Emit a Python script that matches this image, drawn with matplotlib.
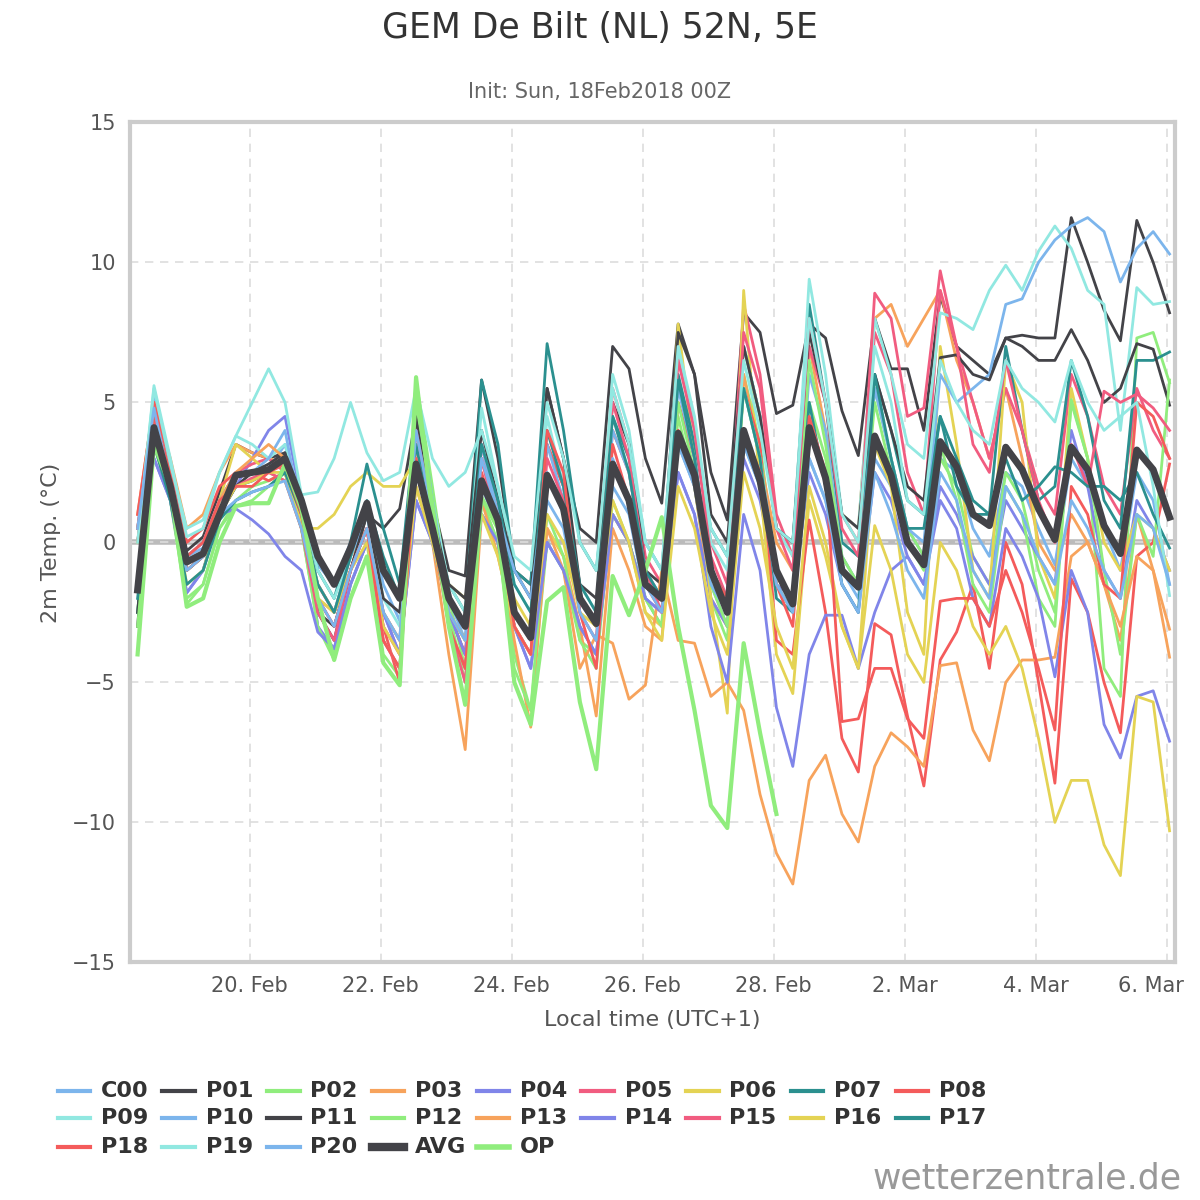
import numpy as np
import matplotlib
matplotlib.use("Agg")
import matplotlib.pyplot as plt
from matplotlib.lines import Line2D
from matplotlib.transforms import ScaledTranslation

N = 64
t0 = 0.29  # days since 18 Feb 00 local
step = 0.25

C00=[0.5,5.2,2.5,-0.5,-0.2,1.5,2.0,2.2,2.6,3.5,1.2,-0.8,-1.5,0,1.2,-1.5,-2.8,3.0,0.5,-2.5,-3.5,2.0,0.5,-3.0,-4.0,1.5,0.5,-2.5,-3.5,2.0,1.0,-2.0,-3.0,3.5,2.0,-1.5,-3.0,3.5,2.0,-1.5,-2.5,3.0,1.5,-1.0,-2.0,3.0,2.0,0.5,-0.5,3.0,2.5,0.5,-0.5,2.5,2.0,0.5,-0.8,3.0,2.0,0.5,-1.0,2.5,1.5,-1.5]
P01=[-3.0,4.2,2.5,-0.3,0.2,1.8,3.5,3.2,3.0,3.2,1.0,-2.5,-3.5,-1.0,1.0,0.5,1.2,4.5,1.5,-1.0,-1.2,5.8,3.0,-1.0,-1.5,5.5,3.0,0.5,0.0,7.0,6.2,3.0,1.4,7.8,6.0,2.5,0.8,8.2,7.5,4.6,4.9,7.8,7.3,4.7,3.1,8.0,6.2,6.2,4.0,8.8,7.0,6.5,6.0,7.3,7.4,7.3,7.3,11.6,10.0,8.3,7.2,11.5,10.0,8.2]
P02=[-2.5,3.8,1.5,-2.2,-1.5,0.5,1.5,2.0,2.2,2.5,0.5,-3.0,-4.0,-1.5,0.0,-4.0,-4.8,5.8,2.0,-2.0,-4.5,1.5,0.0,-4.0,-6.0,0.0,-1.0,-3.5,-4.0,1.0,0.0,-2.0,-3.0,4.5,2.0,-2.0,-3.5,6.0,3.5,-1.0,-2.0,5.0,3.0,-0.5,-1.5,5.5,3.0,0.5,-0.5,3.0,2.0,-0.5,-1.5,2.5,1.5,-1.0,-2.5,5.0,3.0,-4.5,-5.5,7.3,7.5,5.7]
P03=[1.0,5.0,3.0,0.5,1.0,2.5,3.5,3.2,3.0,2.8,1.0,-2.0,-2.5,-0.5,0.5,-2.5,-3.5,2.0,0.0,-4.0,-7.4,1.0,0.0,-3.5,-6.6,0.5,-0.5,-3.0,-6.2,0.5,-1.0,-3.0,-3.5,4.0,2.0,-2.0,-3.0,6.0,3.0,0.0,-1.0,7.0,4.0,1.0,0.5,8.0,8.5,7.0,8.0,9.0,6.5,5.0,3.0,5.5,3.0,0.0,-1.0,1.0,0.0,-1.5,-3.5,1.0,-1.0,-4.1]
P04=[0.0,3.0,1.5,-1.8,-1.0,1.0,2.0,3.0,4.0,4.5,1.5,-3.0,-3.8,-1.5,0.0,-2.5,-4.0,1.5,0.0,-2.5,-4.0,1.0,0.0,-3.0,-4.5,0.0,-1.0,-3.0,-4.0,1.0,0.0,-2.0,-2.5,2.5,1.0,-2.0,-3.0,3.0,1.5,-1.5,-2.0,2.5,1.0,-1.5,-2.5,2.5,1.5,-0.5,-1.5,2.0,1.0,-0.5,-1.5,1.5,0.5,-0.5,-1.5,4.0,2.0,-1.0,-2.0,1.5,0.5,-1.0]
P05=[0.5,4.8,2.5,-0.5,0.0,1.5,2.5,2.8,3.0,2.5,0.5,-2.0,-3.0,-1.0,0.5,-3.0,-4.0,3.5,1.0,-3.0,-4.5,3.5,1.0,-2.5,-3.5,3.5,2.0,-2.0,-3.0,5.5,3.5,-0.5,-1.5,7.0,4.0,0.0,-1.5,8.5,6.0,1.0,-0.5,7.0,5.0,1.0,0.0,7.5,6.0,2.5,1.0,9.0,7.0,5.0,3.0,5.5,4.0,2.0,1.0,6.0,4.5,2.0,1.0,5.5,4.0,3.0]
P06=[0.5,4.0,2.5,-1.0,-0.5,1.5,3.5,3.0,2.5,2.2,0.5,0.5,1.0,2.0,2.5,2.0,2.0,3.0,0.0,-1.5,-2.0,1.0,0.0,-2.0,-3.0,0.5,-0.5,-2.0,-3.0,1.0,0.0,-2.5,-3.0,7.8,3.0,-2.0,-6.1,9.0,2.0,-4.0,-5.4,1.5,-0.5,-3.0,-4.5,3.5,2.0,-2.5,-4.0,7.0,3.5,-1.0,-2.0,6.5,5.0,-0.5,-2.0,5.5,3.0,0.0,-1.0,1.0,0.5,-1.0]
P07=[-2.5,4.0,2.0,-1.0,-0.5,1.0,2.0,2.2,2.5,3.0,1.5,-1.0,-2.0,0.0,2.8,0.5,-1.5,4.5,1.0,-1.5,-2.5,5.8,3.5,-1.0,-1.5,7.1,4.0,0.0,-1.0,4.5,3.0,0.0,-1.0,6.0,3.5,0.5,-0.5,7.0,4.5,0.5,0.0,8.5,5.0,0.0,-0.5,6.0,4.0,1.5,1.0,4.5,2.0,1.0,1.0,7.0,4.0,1.5,2.0,6.5,4.5,1.5,0.5,6.5,6.5,6.8]
P08=[1.0,5.0,2.8,0.0,0.5,2.0,2.5,2.5,2.2,2.5,0.8,-1.5,-2.5,-1.0,0.5,-3.0,-5.0,4.5,1.0,-2.5,-4.0,3.0,1.0,-2.5,-3.5,3.5,2.0,-2.0,-3.0,4.0,2.5,-1.0,-2.0,5.0,3.0,-1.0,-2.0,5.5,3.5,-3.5,-4.0,0.8,-2.5,-7.0,-8.2,-2.9,-3.3,-6.2,-8.7,-4.2,-3.2,-1.5,-4.5,0.0,-1.5,-5.0,-8.6,-1.3,-2.5,-5.0,-6.8,-0.5,0.0,2.8]
P09=[0.0,5.6,3.0,0.2,0.5,2.5,3.8,3.5,3.0,3.5,1.5,-1.0,-2.0,-0.5,1.0,-2.0,-3.0,5.0,1.5,-1.5,-2.5,4.8,2.0,-1.5,-2.5,4.5,2.0,-1.5,-2.5,6.0,4.0,0.0,-1.0,7.0,4.0,0.0,-1.0,7.0,4.5,0.5,-0.5,9.4,6.0,1.0,0.5,8.0,6.0,3.5,3.0,8.2,8.0,7.6,9.0,9.9,9.0,10.4,11.3,10.5,9.0,8.5,4.0,9.1,8.5,8.6]
P10=[0.0,4.5,2.5,-0.5,0.0,1.5,2.5,2.5,3.0,4.0,1.0,-1.5,-2.5,-0.5,1.0,-2.5,-3.5,5.5,1.5,-2.0,-3.5,3.5,1.0,-2.5,-3.5,3.5,1.5,-2.0,-3.0,4.0,2.5,-1.0,-2.0,5.5,3.0,-1.0,-2.0,5.5,3.0,-1.0,-2.0,6.0,4.0,-0.5,-1.5,5.5,3.0,0.5,0.0,6.0,5.0,5.5,6.0,8.5,8.7,10.0,10.8,11.3,11.6,11.1,9.3,10.5,11.1,10.3]
P11=[-2.5,4.0,2.0,-1.0,-0.5,1.0,2.0,2.5,2.8,3.2,1.2,-2.5,-3.0,-1.0,1.0,-2.0,-2.5,4.5,1.0,-1.5,-2.0,4.0,1.5,-1.0,-2.0,5.5,3.0,-1.5,-2.0,5.0,3.5,-1.0,-1.5,7.5,6.0,1.0,0.0,7.0,4.5,0.5,0.0,7.5,5.0,1.0,0.5,6.0,4.0,2.0,1.5,6.6,6.7,6.0,5.8,7.3,7.0,6.5,6.5,7.6,6.5,5.0,5.5,7.1,6.9,4.9]
P12=[-3.0,3.5,1.5,-2.0,-1.5,0.5,1.3,1.5,2.0,2.5,0.5,-3.0,-4.2,-2.0,-0.5,-3.5,-4.5,5.0,1.5,-2.5,-5.0,1.5,0.0,-4.5,-6.0,1.0,-0.5,-3.5,-4.5,1.5,0.0,-2.0,-3.0,5.0,2.5,-1.5,-3.0,5.5,3.0,-1.5,-2.5,6.5,3.5,-0.5,-1.5,5.0,2.5,0.0,-1.0,3.5,1.5,-1.5,-2.5,2.0,1.0,-2.0,-3.0,5.1,3.0,-1.0,-4.0,1.0,-0.5,5.8]
P13=[0.0,4.5,2.0,-1.0,-0.5,1.5,2.5,3.0,3.5,3.0,0.8,-1.5,-2.5,-1.0,0.5,-2.5,-3.5,3.5,0.5,-2.5,-3.5,1.5,-0.5,-3.0,-4.0,0.5,-1.0,-4.5,-3.3,-3.6,-5.6,-5.1,-1.0,-3.5,-3.6,-5.5,-5.0,-6.0,-9.0,-11.1,-12.2,-8.5,-7.6,-9.7,-10.7,-8.0,-6.8,-7.3,-8.0,-4.4,-4.3,-6.7,-7.8,-5.0,-4.2,-4.2,-4.1,-0.5,0.0,-1.5,-3.0,-0.5,-1.0,-3.1]
P14=[0.0,3.0,1.5,-1.8,-1.0,1.0,1.2,0.8,0.3,-0.5,-1.0,-3.2,-3.8,-1.5,0.0,-2.5,-4.0,1.5,0.0,-2.5,-4.0,1.0,0.0,-3.0,-4.5,0.0,-1.0,-3.0,-4.0,1.0,0.0,-2.0,-2.5,2.5,1.0,-3.0,-5.0,1.0,-1.0,-5.9,-8.0,-4.0,-2.6,-2.6,-4.5,-2.5,-1.0,-0.5,-1.5,1.5,0.5,-2.0,-3.0,0.5,-0.5,-2.0,-4.8,-1.0,-2.5,-6.5,-7.7,-5.5,-5.3,-7.1]
P15=[0.0,4.5,2.2,-1.0,-0.5,1.2,2.0,2.3,2.5,2.2,0.5,-2.5,-3.5,-1.0,0.5,-3.5,-4.5,4.0,1.0,-3.0,-5.0,3.0,0.5,-3.0,-4.0,3.0,1.5,-2.5,-3.5,5.0,3.0,-1.0,-2.5,6.5,4.0,-0.5,-2.0,7.5,5.5,0.5,-1.0,8.0,5.0,0.5,-0.5,8.9,8.0,4.5,4.8,9.7,7.0,3.5,2.5,6.5,4.0,1.5,0.0,3.5,2.0,5.4,5.0,5.3,4.8,4.0]
P16=[0.0,3.5,2.0,-1.5,-1.0,1.0,2.0,2.2,2.5,2.5,0.8,-2.0,-2.5,-1.0,0.0,-3.0,-4.0,2.0,0.0,-2.5,-3.5,1.0,-0.5,-3.0,-4.0,1.0,0.0,-2.5,-3.0,1.5,0.0,-2.5,-3.5,2.0,0.5,-2.5,-4.0,2.5,0.5,-3.0,-4.5,2.0,0.0,-3.0,-4.5,0.6,-1.0,-4.0,-5.0,0.0,-1.0,-3.0,-4.0,-3.0,-4.5,-7.0,-10.0,-8.5,-8.5,-10.8,-11.9,-5.5,-5.7,-10.3]
P17=[-2.0,3.5,1.5,-1.5,-1.0,0.8,1.5,1.8,2.0,2.5,1.0,-1.5,-2.5,-0.5,1.5,-0.5,-2.0,3.5,0.5,-2.0,-3.0,3.5,1.5,-1.5,-2.5,4.0,2.0,-1.5,-2.5,4.5,2.5,-1.0,-2.0,5.8,3.0,-1.0,-2.0,5.5,3.0,-2.0,-2.5,5.0,2.0,-1.5,-2.5,6.0,3.0,0.5,0.5,4.5,3.0,1.5,1.0,3.0,1.5,2.0,2.7,2.5,2.0,2.0,1.5,2.5,1.0,-0.2]
P18=[0.5,4.5,2.5,-0.5,0.0,1.5,2.0,2.0,2.5,2.8,1.0,-2.0,-3.0,-1.0,0.5,-3.5,-4.5,3.0,0.5,-3.0,-4.5,2.5,0.5,-3.0,-4.0,4.0,2.5,-2.5,-4.5,3.5,1.5,-1.5,-2.5,4.0,2.5,-1.0,-2.0,4.0,2.5,-1.5,-3.0,4.5,2.5,-6.4,-6.3,-4.5,-4.5,-6.3,-7.0,-2.1,-2.0,-2.0,-3.0,-1.0,-2.5,-4.5,-6.7,2.0,1.0,-1.5,-2.0,5.0,4.5,3.0]
P19=[0.0,5.5,2.8,0.5,0.8,2.5,3.8,5.0,6.2,5.0,1.7,1.8,3.0,5.0,3.2,2.2,2.5,5.5,3.0,2.0,2.5,4.0,2.0,-0.5,-1.0,5.0,3.0,0.0,-1.0,5.5,3.5,0.0,-1.0,7.0,4.5,0.5,-0.5,6.5,4.0,0.5,0.0,8.0,5.0,1.0,0.0,7.0,5.0,1.5,1.0,6.5,5.0,4.0,3.5,6.5,5.5,5.0,4.3,6.5,5.0,4.0,4.5,5.0,2.0,-1.9]
P20=[0.5,4.8,2.0,-1.0,-0.5,1.0,1.5,1.8,2.0,2.2,0.5,-2.0,-3.0,-1.0,0.5,-2.5,-3.5,4.0,1.0,-2.5,-3.5,3.0,1.0,-1.0,-2.0,2.5,1.0,-2.5,-3.5,3.0,1.5,-1.5,-2.5,3.5,2.0,-1.5,-2.5,3.5,2.0,-1.5,-2.5,3.0,1.5,-1.5,-2.5,2.5,1.0,-1.0,-2.0,2.5,1.5,-1.0,-2.0,2.0,1.0,-0.5,-1.5,1.5,0.5,-1.0,-2.0,1.0,0.5,-1.5]
AVG=[-1.7,4.1,2.0,-0.7,-0.4,1.0,2.4,2.5,2.6,3.0,1.5,-0.5,-1.5,-0.2,1.4,-1.0,-2.0,2.8,0.5,-2.0,-3.0,2.2,0.8,-2.5,-3.4,2.4,1.2,-2.0,-2.9,2.8,1.5,-1.5,-2.0,3.9,2.4,-1.0,-2.5,4.0,2.2,-1.0,-2.2,4.1,2.3,-1.0,-1.6,3.8,2.4,0.0,-0.8,3.6,2.7,1.0,0.6,3.4,2.6,1.2,0.1,3.4,2.6,0.6,-0.4,3.3,2.6,0.9]
OP=[-4,3.5,2,-2.3,-2,0,1.3,1.4,1.4,2.8,1.2,-2,-4.2,-2,-0.5,-4.3,-5.1,5.9,1,-3,-5.8,1.6,0.5,-5,-6.5,-2.1,-1.6,-5.7,-8.1,-1.2,-2.6,-1,0.9,-3,-6,-9.4,-10.2,-3.6,-6.8,-9.7]

names = ["C00"]+["P%02d"%i for i in range(1,21)]
members = [C00,P01,P02,P03,P04,P05,P06,P07,P08,P09,P10,P11,P12,P13,P14,P15,P16,P17,P18,P19,P20]
palette = ["#7cb5ec","#434348","#90ed7d","#f7a35c","#8085e9","#f15c80","#e4d354","#2b908f","#f45b5b","#91e8e1"]
colors = [palette[i % 10] for i in range(21)]

fig = plt.figure(figsize=(12,12), dpi=100)
ax = fig.add_axes([0.108, 0.198, 0.871, 0.700])
t = t0 + step*np.arange(N)
ax.axhline(0, color="#bbbbbb", lw=4, zorder=1)
for vals, c in zip(members, colors):
    ax.plot(t[:len(vals)], vals, color=c, lw=2, zorder=2)
ax.plot(t[:len(OP)], OP, color="#90ed7d", lw=3, zorder=3)
ax.plot(t, AVG, color="#434348", lw=5, zorder=4)

ax.set_xlim(0.168, 16.12)
ax.set_ylim(-15, 15)
ax.set_yticks(range(-15, 16, 5))
ax.set_yticklabels(["\u221215","\u221210","\u22125","0","5","10","15"])
days = list(range(2, 17, 2))
labels = ["20. Feb","22. Feb","24. Feb","26. Feb","28. Feb","2. Mar","4. Mar","6. Mar"]
ax.set_xticks(days)
ax.set_xticklabels(labels)
ax.grid(True, ls=(0,(5,4)), color="#dddddd", lw=1.2)
ax.tick_params(labelsize=15, colors="#555555", length=0, pad=10)
last = ax.get_xticklabels()[-1]
last.set_transform(last.get_transform() + ScaledTranslation(-0.16, 0, fig.dpi_scale_trans))
for s in ax.spines.values():
    s.set_color("#cccccc"); s.set_linewidth(3)
ax.set_ylabel("2m Temp. (°C)", fontsize=16, color="#555555", labelpad=8)
ax.set_xlabel("Local time (UTC+1)", fontsize=16, color="#555555", labelpad=10)

fig.text(0.5, 0.977, "GEM De Bilt (NL) 52N, 5E", ha="center", va="center", fontsize=25, color="#333333")
fig.text(0.5, 0.923, "Init: Sun, 18Feb2018 00Z", ha="center", va="center", fontsize=15, color="#666666")

lnames = names + ["AVG","OP"]
lcols = colors + ["#434348","#90ed7d"]
lws = [3]*21 + [6,4]
x0, dx = 0.048, 0.0873
ys = [0.091, 0.068, 0.044]
for i, (n, c, w) in enumerate(zip(lnames, lcols, lws)):
    r, col = divmod(i, 9)
    x = x0 + col*dx; y = ys[r]
    fig.add_artist(Line2D([x, x+0.027], [y, y], color=c, lw=w, transform=fig.transFigure))
    fig.text(x+0.036, y, n, va="center", ha="left", fontsize=16, fontweight="bold", color="#333333")

fig.text(0.985, 0.018, "wetterzentrale.de", ha="right", va="center", fontsize=25, color="#999999")
fig.savefig("out.png", dpi=100)
